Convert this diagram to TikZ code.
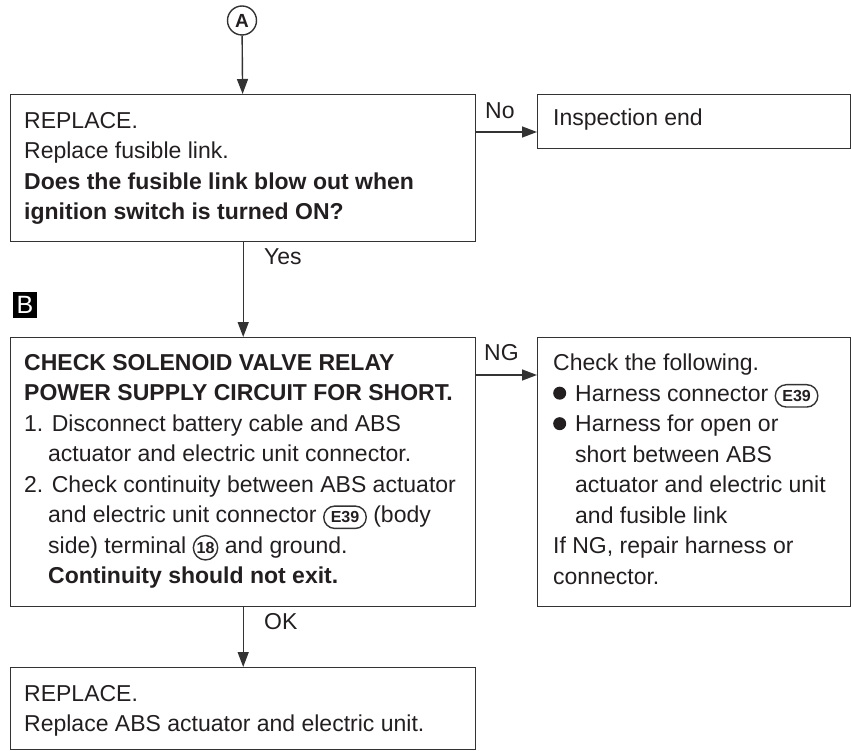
\documentclass[tikz,border=0pt]{standalone}
\usepackage{fontspec}
\setmainfont{Liberation Sans}
\usetikzlibrary{arrows.meta}
\definecolor{ln}{HTML}{333333}
\definecolor{tx}{HTML}{231F20}
\newcommand{\econn}[1]{\tikz[x=1pt,y=1pt,baseline=(ec.base)]\node[draw=ln,line width=1.4pt,rounded corners=11pt,inner xsep=7pt,inner ysep=5.5pt,font=\fontsize{16}{16}\selectfont\bfseries,text=tx](ec){#1};}
\newcommand{\cterm}[1]{\tikz[x=1pt,y=1pt,baseline=(ct.base)]\node[draw=ln,circle,line width=1.4pt,inner sep=1.2pt,font=\fontsize{16}{16}\selectfont\bfseries,text=tx](ct){#1};}
\newcommand{\bul}{\makebox[22pt][l]{\tikz[x=1pt,y=1pt,baseline=0pt]\fill[tx] (7,8.2) circle (6.5);}}
\tikzset{
  box/.style={draw=ln,line width=1.4pt,rectangle,inner sep=0pt,anchor=north west},
  txt/.style={align=left,anchor=north west,inner sep=0pt,text=tx,font=\fontsize{23}{30.5}\selectfont},
  lbl/.style={anchor=west,inner sep=0pt,text=tx,font=\fontsize{23}{30.5}\selectfont},
  arr/.style={draw=ln,line width=1.4pt,-{Triangle[length=15pt,width=11pt]}},
}
\begin{document}
\begin{tikzpicture}[x=1pt,y=-1pt]
\useasboundingbox (0,0) rectangle (851,751);
% start symbol
\node[draw=ln,circle,line width=1.4pt,minimum size=29pt,inner sep=0pt,text=tx,font=\fontsize{19}{19}\selectfont\bfseries] (A) at (242,20.5) {A};
% boxes
\node[box,minimum width=465pt,minimum height=147pt] (b1) at (10,94) {};
\node[box,minimum width=313pt,minimum height=54pt] (ie) at (537,94) {};
\node[box,minimum width=465pt,minimum height=269pt] (b2) at (10,337) {};
\node[box,minimum width=313pt,minimum height=269pt] (b3) at (537,337) {};
\node[box,minimum width=465pt,minimum height=82pt] (b4) at (10,667) {};
% texts
\node[txt] (t1) at (24,112) {REPLACE.\\Replace fusible link.\\\textbf{Does the fusible link blow out when}\\\textbf{ignition switch is turned ON?}};
\node[txt] (tie) at (553,109) {Inspection end};
\node[txt] (t2) at (24,354) {\textbf{CHECK SOLENOID VALVE RELAY}\\\textbf{POWER SUPPLY CIRCUIT FOR SHORT.}\\1. Disconnect battery cable and ABS\\\hspace*{24pt}actuator and electric unit connector.\\2. Check continuity between ABS actuator\\\hspace*{24pt}and electric unit connector \econn{E39} (body\\\hspace*{24pt}side) terminal \cterm{18} and ground.\\\hspace*{24pt}\textbf{Continuity should not exit.}};
\node[txt] (t3) at (553,354) {Check the following.\\\bul Harness connector \econn{E39}\\\bul Harness for open or\\\hspace*{22pt}short between ABS\\\hspace*{22pt}actuator and electric unit\\\hspace*{22pt}and fusible link\\If NG, repair harness or\\connector.};
\node[txt] (t4) at (24,685) {REPLACE.\\Replace ABS actuator and electric unit.};
% B marker
\node[fill=black,minimum width=24pt,minimum height=26pt,inner sep=0pt,text=white,font=\fontsize{25}{25}\selectfont] (Bm) at (25,305) {B};
% connectors
\draw[arr] (A) -- (b1);
\draw[arr] (b1) -- (b2);
\draw[arr] (b2) -- (b4);
\coordinate (noy) at (0,132);
\coordinate (ngy) at (0,375);
\draw[arr] (b1.east |- noy) -- (ie.west |- noy);
\draw[arr] (b2.east |- ngy) -- (b3.west |- ngy);
% labels
\node[lbl] (lno) at (485,111) {No};
\node[lbl] (lyes) at (264,257) {Yes};
\node[lbl] (lng) at (484,353) {NG};
\node[lbl] (lok) at (264,622) {OK};
\end{tikzpicture}
\end{document}
